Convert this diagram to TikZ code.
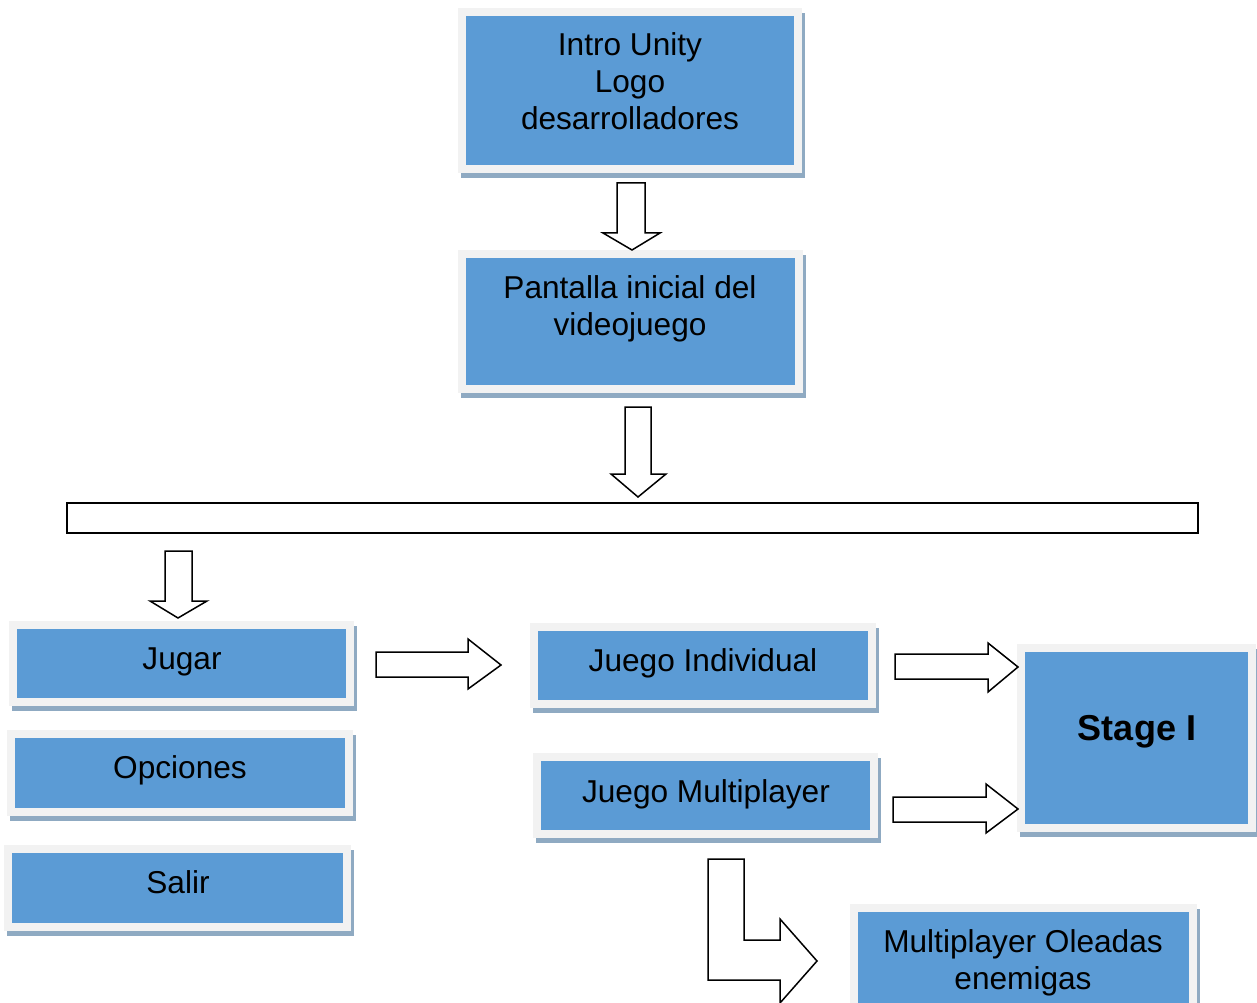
\documentclass[tikz,border=0pt]{standalone}
\usepackage{fontspec}
\setmainfont{Liberation Sans}
\usetikzlibrary{fit}
\definecolor{B1}{RGB}{91,155,213}
\definecolor{G1}{RGB}{242,242,242}
\definecolor{S1}{RGB}{143,170,194}
\begin{document}
\begin{tikzpicture}[x=0.02cm, y=-0.02cm,
    caja/.style={fill=B1, draw=G1, line width=0.15cm, inner sep=0pt,
      preaction={draw=S1, fill=S1, transform canvas={shift={(3,5)}}}},
    txt/.style={font=\fontsize{18}{20.9}\selectfont, align=center, inner sep=0pt},
    flecha/.style={draw=black, fill=white, line width=0.03cm, line join=miter}]
      \useasboundingbox (0,0) rectangle (1257,1003);
      \clip (0,0) rectangle (1257,1003);
      \node[caja, fit={(462,12) (798,169)}] (intro) {};
      \node[txt] (intro-t) at (630,81) {Intro Unity\\Logo\\desarrolladores};
      \node[caja, fit={(462,254) (799,389)}] (pant) {};
      \node[txt] (pant-t) at (630,309) {Pantalla inicial del\\videojuego};
      \node[draw, line width=0.035cm, inner sep=0pt, fit={(67,503) (1198,533)}] (barra) {};
      \node[caja, fit={(13,625) (350,702)}] (jugar) {};
      \node[txt, anchor=base] (jugar-t) at (182,669) {Jugar};
      \node[caja, fit={(11,734) (349,812)}] (opciones) {};
      \node[txt, anchor=base] (opciones-t) at (180,778) {Opciones};
      \node[caja, fit={(8,849) (347,927)}] (salir) {};
      \node[txt, anchor=base] (salir-t) at (178,893) {Salir};
      \node[caja, fit={(534,627) (872,704)}] (indiv) {};
      \node[txt, anchor=base] (indiv-t) at (703,671) {Juego Individual};
      \node[caja, fit={(537,757) (874,834)}] (multi) {};
      \node[txt, anchor=base] (multi-t) at (706,802) {Juego Multiplayer};
      \node[caja, fit={(1021,648) (1252,828)}] (stage) {};
      \node[txt, anchor=base, font=\fontsize{20.5}{24}\selectfont\bfseries] (stage-t) at (1137,740) {Stage I};
      \node[caja, fit={(854,908) (1193,1012)}] (oleadas) {};
      \node[txt] (oleadas-t) at (1023,963) {Multiplayer Oleadas\\enemigas};
      \draw[flecha] (617,183) -- (645,183) -- (645,233) -- (660,233) -- (632,250) -- (603,233) -- (617,233) -- cycle;
      \draw[flecha] (625,407) -- (651,407) -- (651,474) -- (666,474) -- (638,497) -- (611,474) -- (625,474) -- cycle;
      \draw[flecha] (165,551) -- (192,551) -- (192,601) -- (207,601) -- (178,618) -- (150,601) -- (165,601) -- cycle;
      \draw[flecha] (376,652) -- (468,652) -- (468,639) -- (501,665) -- (468,689) -- (468,677) -- (376,677) -- cycle;
      \draw[flecha] (895,654) -- (988,654) -- (988,643) -- (1018,667) -- (988,692) -- (988,679) -- (895,679) -- cycle;
      \draw[flecha] (893,797) -- (986,797) -- (986,784) -- (1018,809) -- (986,833) -- (986,822) -- (893,822) -- cycle;
      \draw[flecha] (708,859) -- (744,859) -- (744,940) -- (780,940) -- (780,919) -- (817,961) -- (780,1003) -- (780,980) -- (708,980) -- cycle;
\end{tikzpicture}
\end{document}
